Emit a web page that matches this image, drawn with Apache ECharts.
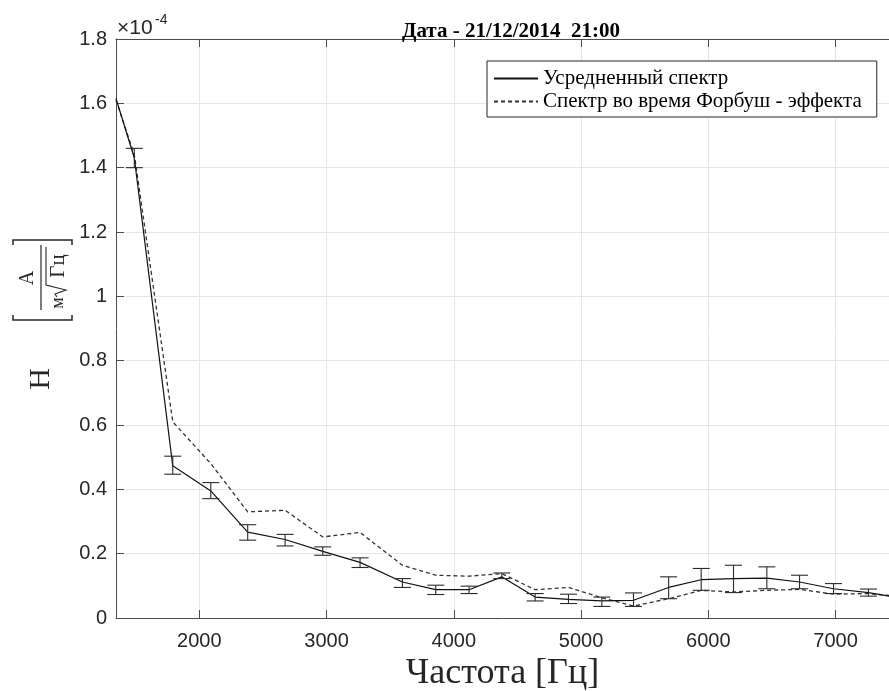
<!DOCTYPE html>
<html><head><meta charset="utf-8">
<script src="https://cdn.jsdelivr.net/npm/echarts@6/dist/echarts.min.js"></script>
<style>html,body{margin:0;padding:0;background:#fff}#c{width:889px;height:691px}</style>
</head><body><div id="c"></div>
<script>
// Frequencies, Hz
const freq = [1345, 1489, 1791, 2090, 2380, 2674, 2970, 3263, 3596, 3858, 4120, 4377, 4639, 4901, 5163, 5412, 5688, 5944, 6198, 6460, 6717, 6984, 7259, 7420];
// Averaged spectrum (x1e-4)
const avgSpectrum = [1.615, 1.43, 0.473, 0.395, 0.267, 0.244, 0.207, 0.173, 0.112, 0.088, 0.088, 0.128, 0.065, 0.058, 0.053, 0.055, 0.095, 0.119, 0.1225, 0.124, 0.112, 0.091, 0.079, 0.068];
// Spectrum during Forbush effect (x1e-4)
const forbushSpectrum = [1.61, 1.44, 0.61, 0.48, 0.33, 0.335, 0.252, 0.266, 0.164, 0.133, 0.13, 0.138, 0.088, 0.095, 0.063, 0.037, 0.06, 0.086, 0.081, 0.086, 0.089, 0.074, 0.076, 0.07];
// Error bar limits for averaged spectrum
const errLow  = [null, 1.40, 0.447, 0.371, 0.242, 0.224, 0.195, 0.157, 0.095, 0.073, 0.076, 0.1225, 0.053, 0.045, 0.036, 0.036, 0.060, 0.086, 0.079, 0.091, 0.091, 0.076, 0.068, null];
const errHigh = [null, 1.46, 0.503, 0.421, 0.29, 0.26, 0.221, 0.187, 0.1225, 0.102, 0.099, 0.14, 0.076, 0.074, 0.065, 0.078, 0.128, 0.154, 0.164, 0.159, 0.133, 0.107, 0.09, null];
const xTicks = [2000, 3000, 4000, 5000, 6000, 7000];
const seriesNames = ['Усредненный спектр', 'Спектр во время Форбуш - эффекта'];

const avgData = freq.map((f, i) => [f, avgSpectrum[i]]);
const forbushData = freq.map((f, i) => [f, forbushSpectrum[i]]);
const errData = freq.map((f, i) => [f, errLow[i], errHigh[i]]).filter(d => d[1] != null);

const axisColor = '#4d4d4d';
const textColor = '#262626';
const sans = 'Liberation Sans';
const serif = 'Liberation Serif';

const chart = echarts.init(document.getElementById('c'));
chart.setOption({
  animation: false,
  backgroundColor: '#fff',
  title: {
    text: 'Дата - 21/12/2014  21:00',
    left: 506, top: 16, textAlign: 'center',
    textStyle: { fontFamily: serif, fontWeight: 'bold', fontSize: 21, color: '#000' }
  },
  grid: { left: 116, right: 0, top: 39, bottom: 73, containLabel: false, outerBoundsMode: 'none' },
  legend: {
    data: seriesNames,
    orient: 'vertical',
    left: 487, top: 61,
    padding: [7, 15, 5, 6],
    itemWidth: 44, itemHeight: 18, itemGap: 2,
    backgroundColor: '#fff',
    borderColor: '#262626', borderWidth: 1, borderRadius: 0,
    itemStyle: { opacity: 0 },
    textStyle: { fontFamily: serif, fontSize: 21, color: '#000' }
  },
  xAxis: [{
    type: 'value', min: 1345, max: 7420,
    name: 'Частота [Гц]', nameLocation: 'middle', nameGap: 32,
    nameTextStyle: { fontFamily: serif, fontSize: 36, color: textColor },
    axisLine: { show: true, onZero: false, lineStyle: { color: axisColor, width: 1 } },
    axisTick: { show: true, inside: true, length: 8, customValues: xTicks, lineStyle: { color: axisColor } },
    axisLabel: { customValues: xTicks, formatter: v => String(v), fontFamily: sans, fontSize: 20, color: textColor, margin: 13 },
    splitLine: { show: true, lineStyle: { color: '#e6e6e6', width: 1 } }
  }, {
    type: 'value', min: 1345, max: 7420, position: 'top',
    axisLine: { show: true, onZero: false, lineStyle: { color: axisColor, width: 1 } },
    axisTick: { show: true, inside: true, length: 8, customValues: xTicks, lineStyle: { color: axisColor } },
    axisLabel: { show: false },
    splitLine: { show: false }
  }],
  yAxis: {
    type: 'value', min: 0, max: 1.8, interval: 0.2,
    axisLine: { show: true, onZero: false, lineStyle: { color: axisColor, width: 1 } },
    axisTick: { show: true, inside: true, length: 8, lineStyle: { color: axisColor } },
    axisLabel: { fontFamily: sans, fontSize: 20, color: textColor, margin: 9 },
    splitLine: { show: true, lineStyle: { color: '#e6e6e6', width: 1 } }
  },
  graphic: [
    { type: 'text', x: 117, y: 28, style: { text: '×10', fontFamily: sans, fontSize: 21, fill: textColor, verticalAlign: 'middle' } },
    { type: 'text', x: 155, y: 20, style: { text: '-4', fontFamily: sans, fontSize: 14, fill: textColor, verticalAlign: 'middle' } },
    { type: 'text', x: 41, y: 379, rotation: Math.PI / 2,
      style: { text: 'H', fontFamily: serif, fontSize: 30, fill: textColor, align: 'center', verticalAlign: 'middle' } },
    { type: 'group', x: 42, y: 280, rotation: Math.PI / 2, children: [
      { type: 'polyline', shape: { points: [[-35, -29], [-40, -29], [-40, 30], [-35, 30]] }, style: { stroke: textColor, lineWidth: 1.5, fill: null } },
      { type: 'polyline', shape: { points: [[35, -29], [40, -29], [40, 30], [35, 30]] }, style: { stroke: textColor, lineWidth: 1.5, fill: null } },
      { type: 'line', shape: { x1: -30, y1: -1, x2: 35, y2: -1 }, style: { stroke: textColor, lineWidth: 1.2 } },
      { type: 'text', x: 2, y: -14, style: { text: 'A', fontFamily: serif, fontSize: 20, fill: textColor, align: 'center', verticalAlign: 'middle' } },
      { type: 'text', x: -23, y: 16, style: { text: 'м', fontFamily: serif, fontSize: 18, fill: textColor, align: 'center', verticalAlign: 'middle' } },
      { type: 'polyline', shape: { points: [[-17, 15], [-14, 13], [-10, 24], [-5, 4], [33, 4]] }, style: { stroke: textColor, lineWidth: 1.1, fill: null } },
      { type: 'text', x: 14, y: 16, style: { text: 'Гц', fontFamily: serif, fontSize: 21, fill: textColor, align: 'center', verticalAlign: 'middle' } }
    ] }
  ],
  series: [
    {
      name: seriesNames[0], type: 'line', data: avgData, symbol: 'none',
      lineStyle: { color: '#111', width: 1.2, type: 'solid' }, itemStyle: { color: '#111' }, z: 3
    },
    {
      name: seriesNames[1], type: 'line', data: forbushData, symbol: 'none',
      lineStyle: { color: '#333', width: 1.3, type: [4, 3] }, itemStyle: { color: '#333' }, z: 2
    },
    {
      name: 'err', type: 'custom', data: errData,
      encode: { x: 0, y: [1, 2] }, z: 4,
      renderItem: function (params, api) {
        const x = api.value(0);
        const pLo = api.coord([x, api.value(1)]);
        const pHi = api.coord([x, api.value(2)]);
        const w = 8.5;
        const st = { stroke: '#2b2b2b', lineWidth: 1.1 };
        return { type: 'group', children: [
          { type: 'line', shape: { x1: pLo[0], y1: pLo[1], x2: pHi[0], y2: pHi[1] }, style: st },
          { type: 'line', shape: { x1: pLo[0] - w, y1: pLo[1], x2: pLo[0] + w, y2: pLo[1] }, style: st },
          { type: 'line', shape: { x1: pHi[0] - w, y1: pHi[1], x2: pHi[0] + w, y2: pHi[1] }, style: st }
        ] };
      }
    }
  ]
});
</script>
</body></html>
